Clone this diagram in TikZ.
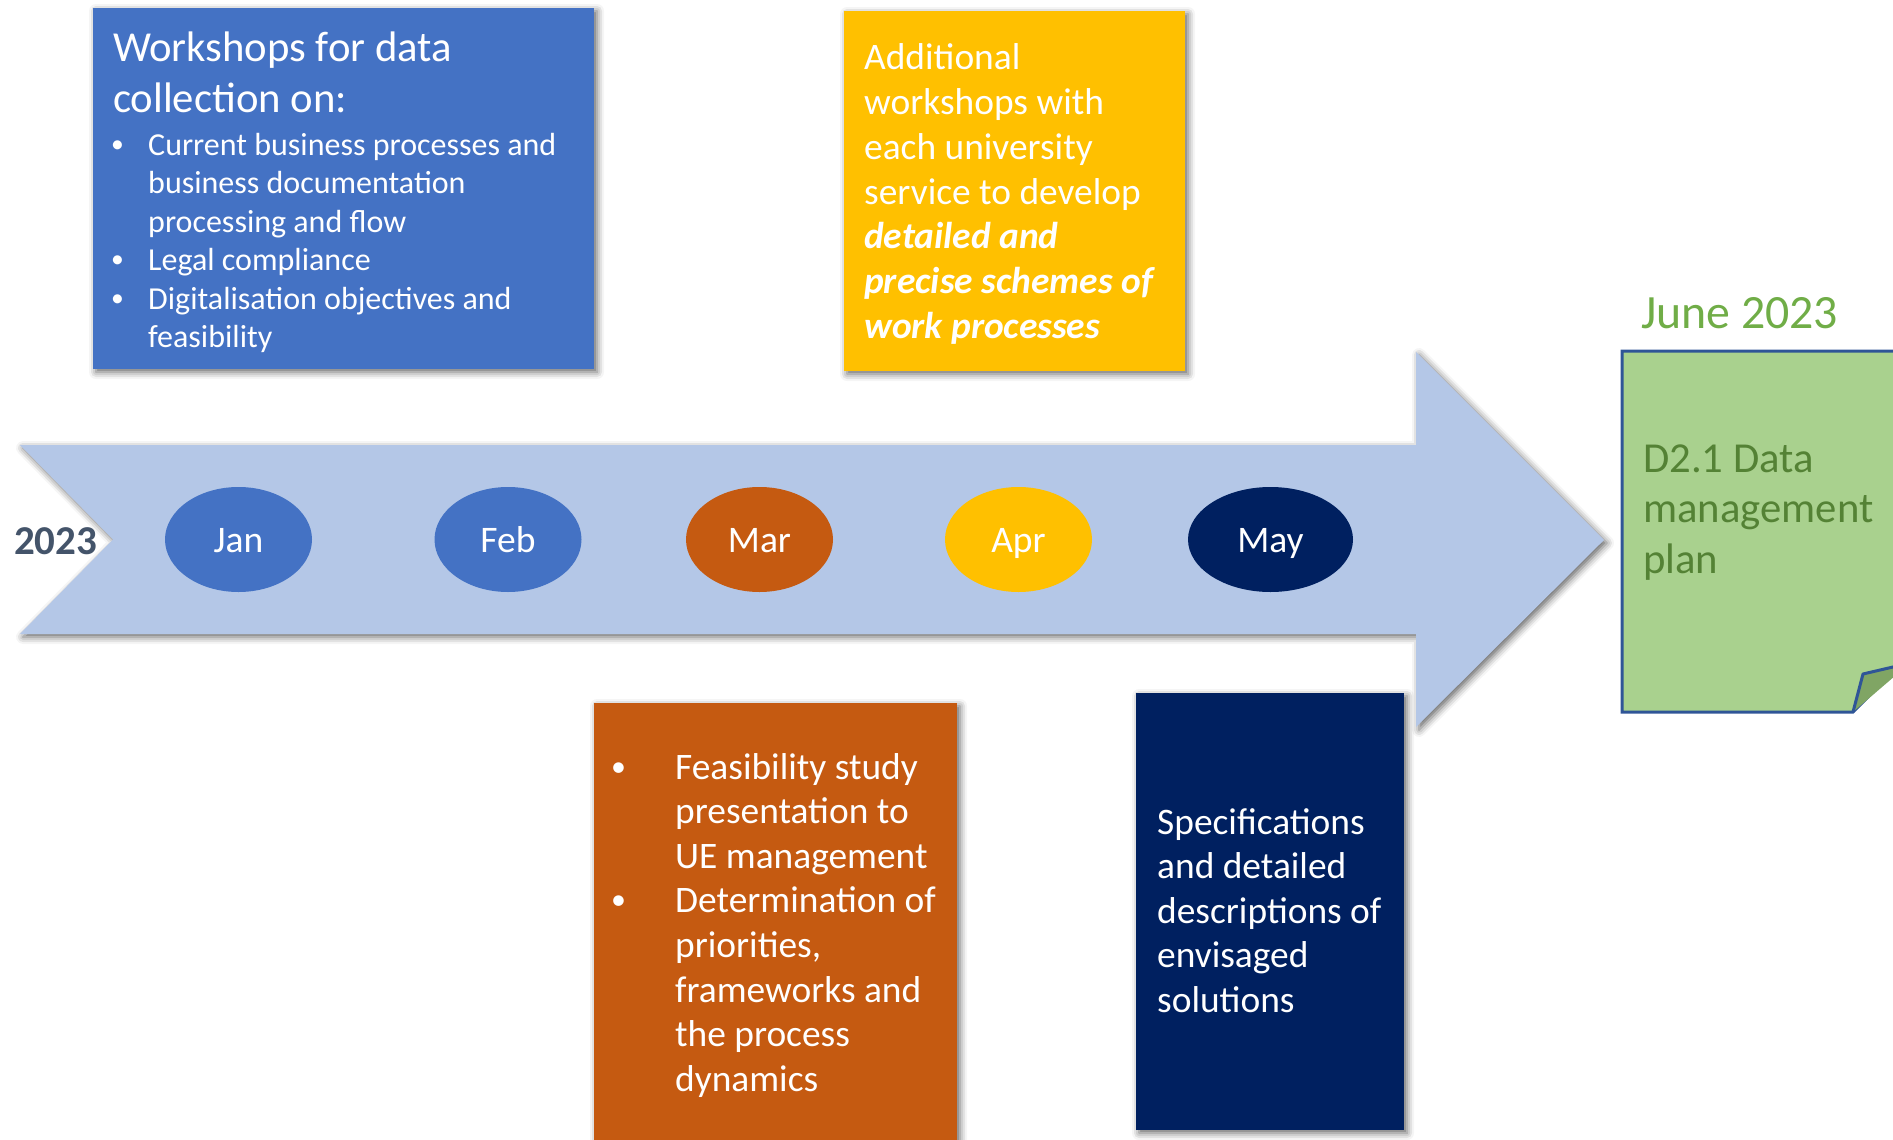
\documentclass[tikz,border=0pt]{standalone}
\usepackage{fontspec}
\setmainfont{Carlito}
\usetikzlibrary{shapes.geometric,shadows.blur}
\definecolor{arrowblue}{HTML}{B4C7E7}
\definecolor{wsblue}{HTML}{4472C4}
\definecolor{wsyellow}{HTML}{FFC000}
\definecolor{wsorange}{HTML}{C55A11}
\definecolor{wsnavy}{HTML}{002060}
\definecolor{notegreen}{HTML}{A9D18E}
\definecolor{notefold}{RGB}{128,165,100}
\definecolor{noteborder}{HTML}{2F5597}
\definecolor{junegreen}{HTML}{70AD47}
\definecolor{plangreen}{HTML}{548235}
\definecolor{yeargray}{HTML}{44546A}
\newcommand\bitem[2]{\par\noindent\llap{\makebox[#1][l]{\raisebox{0.08em}{\scalebox{0.8}{\textbullet}}}}#2\par}
\newcommand\blk[3]{\parbox[t]{600pt}{\fontsize{#1}{#2}\selectfont\parskip=0pt\parindent=0pt #3}}
\begin{document}
\begin{tikzpicture}[x=1pt,y=-1pt,
  shade/.style={blur shadow={shadow xshift=3pt,shadow yshift=-3pt,shadow blur radius=7pt,shadow opacity=60}},
  card/.style={shade,rectangle,inner sep=0pt,draw=none},
  month/.style={ellipse,inner sep=0pt,minimum width=147pt,minimum height=105pt,text=white,
    text height=26pt,text depth=0pt,font=\fontsize{37.5}{45}\selectfont},
  txt/.style={inner sep=0pt,anchor=base west,text=white}]
\path[use as bounding box] (0,0) rectangle (1893,1140);
\begin{scope}
\clip (0,0) rectangle (1893,1140);
% timeline arrow
\path[shade,fill=arrowblue] (20,445) -- (1416,445) -- (1416,352) -- (1604,540) -- (1416,727) -- (1416,634) -- (20,634) -- (113,539.5) -- cycle;
\node[anchor=base west,inner sep=0pt,text=yeargray,font=\fontsize{41}{49}\selectfont\bfseries] (year) at (14,554) {2023};
% months
\node[month,fill=wsblue] (jan) at (238.5,539.5) {Jan};
\node[month,fill=wsblue] (feb) at (508,539.5) {Feb};
\node[month,fill=wsorange] (mar) at (759.5,539.5) {Mar};
\node[month,fill=wsyellow] (apr) at (1018.5,539.5) {Apr};
\node[month,fill=wsnavy,minimum width=165pt] (may) at (1270.5,539.5) {May};
% cards
\node[card,fill=wsblue,minimum width=501pt,minimum height=361pt] (wk) at (343.5,188.5) {};
\node[txt] (wktitle) at (113,62) {\blk{42.7}{51}{Workshops for data\\collection on:}};
\node[txt] (wklist) at (148,155) {\blk{32}{38.5}{\bitem{37pt}{Current business processes and\\business documentation\\processing and flow}\bitem{37pt}{Legal compliance}\bitem{37pt}{Digitalisation objectives and\\feasibility}}};
\node[card,fill=wsyellow,minimum width=341pt,minimum height=360pt] (add) at (1014.5,191) {};
\node[txt] (addtext) at (864,70) {\blk{37.4}{44.7}{Additional\\workshops with\\each university\\service to develop\\\textbf{\textit{detailed and}}\\\textbf{\textit{precise schemes of}}\\\textbf{\textit{work processes}}}};
\node[card,fill=wsorange,minimum width=363pt,minimum height=457pt] (feas) at (775.5,931.5) {};
\node[txt] (feastext) at (675,779) {\blk{37.4}{44.6}{\bitem{64pt}{Feasibility study\\presentation to\\UE management}\bitem{64pt}{Determination of\\priorities,\\frameworks and\\the process\\dynamics}}};
\node[card,fill=wsnavy,minimum width=268pt,minimum height=437pt] (spec) at (1270,911.5) {};
\node[txt] (spectext) at (1157,834) {\blk{37.4}{44.6}{Specifications\\and detailed\\descriptions of\\envisaged\\solutions}};
% deliverable note
\draw[line width=3pt,draw=noteborder,fill=notegreen,line join=miter] (1622,351) -- (1910,351) -- (1910,655) -- (1853,712) -- (1622,712) -- cycle;
\draw[line width=3pt,draw=noteborder,fill=notefold,line join=round] (1853,712) -- (1863,674) -- (1910,663);
\node[anchor=base west,inner sep=0pt,text=junegreen,font=\fontsize{47.8}{57}\selectfont] (june) at (1641,328) {June 2023};
\node[anchor=base west,inner sep=0pt,text=plangreen] (plan) at (1643,472) {\blk{42.7}{50.7}{D2.1 Data\\management\\plan}};
\end{scope}
\end{tikzpicture}
\end{document}
